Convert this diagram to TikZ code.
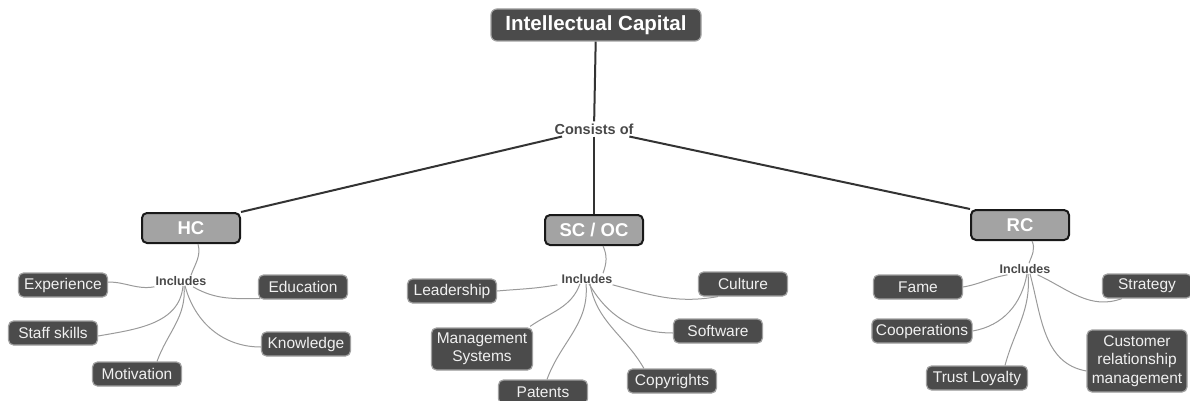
\documentclass[tikz,border=0pt]{standalone}
\usepackage{fontspec}
\setmainfont{Liberation Sans}
\definecolor{leaffill}{HTML}{4B4B4B}
\definecolor{leafedge}{HTML}{A0A0A0}
\definecolor{catfill}{HTML}{A3A3A3}
\definecolor{thinline}{HTML}{9A9A9A}
\definecolor{labtext}{HTML}{484848}
\definecolor{mainline}{HTML}{333333}
\tikzset{
  topbox/.style={rounded corners=6pt, fill=leaffill, draw=leafedge, line width=1.2pt,
    text=white, font=\fontsize{20.5}{24}\selectfont\bfseries, minimum width=210pt, minimum height=32pt, inner sep=2pt},
  catbox/.style={rounded corners=5pt, fill=catfill, draw=black!90, line width=2pt,
    text=white, font=\fontsize{18.5}{22}\selectfont\bfseries, minimum width=98pt, minimum height=30pt, inner sep=2pt},
  leafbox/.style={rounded corners=5pt, fill=leaffill, draw=leafedge, line width=1.2pt,
    text=white!94!black, font=\fontsize{15.5}{18.5}\selectfont, minimum width=89pt, minimum height=24pt,
    inner xsep=4pt, inner ysep=2pt, align=center},
  linklabel/.style={text=labtext, font=\fontsize{12.5}{14}\selectfont\bfseries, inner sep=1pt},
  conslabel/.style={text=labtext, font=\fontsize{14.5}{16}\selectfont\bfseries, inner sep=2pt},
  mainlink/.style={draw=mainline, line width=2pt},
  thinlink/.style={draw=thinline, line width=1pt},
}
\begin{document}
\begin{tikzpicture}[x=1pt,y=-1pt]
\useasboundingbox (0,0) rectangle (1190,401);
% top
\node[topbox] (ic) at (596,25) {Intellectual Capital};
\node[conslabel] (cons) at (594,129) {Consists of};
\node[catbox] (hc) at (191,228) {HC};
\node[catbox] (sc) at (594,230) {SC / OC};
\node[catbox] (rc) at (1020,225) {RC};
\draw[mainlink] (ic) -- (cons);
\draw[mainlink] (cons) -- (sc);
\draw[mainlink] (cons) -- (hc.north east);
\draw[mainlink] (cons) -- (rc.north west);

% HC group
\node[linklabel] (inc1) at (181,281) {Includes};
\node[leafbox] (exp) at (63,285) {Experience};
\node[leafbox] (edu) at (303,287) {Education};
\node[leafbox] (staff) at (53,333) {Staff skills};
\node[leafbox] (know) at (306,344) {Knowledge};
\node[leafbox] (motiv) at (137,374) {Motivation};
\draw[thinlink] ([xshift=7pt]hc.south) to[out=-75,in=70] ([xshift=10pt]inc1.north);
\draw[thinlink] (inc1.south west) to[out=190,in=0] ([yshift=3pt]exp.east);
\draw[thinlink] ([xshift=12pt]inc1.south) to[out=-30,in=180] ([xshift=2pt,yshift=1pt]edu.south west);
\draw[thinlink] ([xshift=2pt,yshift=1pt]inc1.south) to[out=-95,in=10] ([yshift=-3pt]staff.east);
\draw[thinlink] ([xshift=3pt,yshift=1pt]inc1.south) to[out=-85,in=70] ([xshift=20pt]motiv.north);
\draw[thinlink] ([xshift=4pt,yshift=1pt]inc1.south) to[out=-75,in=180] ([yshift=-3pt]know.west);

% SC group
\node[linklabel] (inc2) at (587,279) {Includes};
\node[leafbox] (lead) at (452,291) {Leadership};
\node[leafbox] (cult) at (743,284) {Culture};
\node[leafbox, minimum width=101pt, minimum height=42pt] (mgmt) at (482,349) {Management\\Systems};
\node[leafbox] (soft) at (718,331) {Software};
\node[leafbox] (pat) at (543,392) {Patents};
\node[leafbox] (copy) at (672,381) {Copyrights};
\draw[thinlink] ([xshift=9pt]sc.south) to[out=-65,in=70] ([xshift=16pt]inc2.north);
\draw[thinlink] ([xshift=-3pt]inc2.south west) to[out=190,in=5] (lead.east);
\draw[thinlink] ([xshift=-1pt]inc2.south east) to[out=-15,in=190] ([xshift=20pt]cult.south west);
\draw[thinlink] ([xshift=-7pt,yshift=1pt]inc2.south) to[out=-110,in=35] ([xshift=-3pt,yshift=1pt]mgmt.north east);
\draw[thinlink] ([xshift=2pt,yshift=1pt]inc2.south) to[out=-60,in=180] ([yshift=-2pt]soft.west);
\draw[thinlink] ([xshift=-1pt,yshift=1pt]inc2.south) to[out=-85,in=70] ([xshift=4pt]pat.north);
\draw[thinlink] ([xshift=3pt,yshift=1pt]inc2.south) to[out=-80,in=120] ([xshift=17pt]copy.north west);

% RC group
\node[linklabel] (inc3) at (1025,269) {Includes};
\node[leafbox] (fame) at (918,287) {Fame};
\node[leafbox] (strat) at (1147,286) {Strategy};
\node[leafbox] (coop) at (922,331) {Cooperations};
\node[leafbox, minimum width=101pt] (trust) at (977,378) {Trust Loyalty};
\node[leafbox, minimum width=100pt, minimum height=62pt] (crm) at (1137,361) {Customer\\relationship\\management};
\draw[thinlink] ([xshift=12pt]rc.south) to[out=-65,in=70] ([xshift=4pt]inc3.north);
\draw[thinlink] ([xshift=9pt]inc3.south west) to[out=190,in=10] (fame.east);
\draw[thinlink] ([xshift=-14pt]inc3.south east) to[out=-25,in=200] ([xshift=20pt]strat.south west);
\draw[thinlink] ([xshift=2pt,yshift=1pt]inc3.south) to[out=-100,in=10] (coop.east);
\draw[thinlink] ([xshift=3pt,yshift=1pt]inc3.south) to[out=-85,in=75] ([xshift=28pt]trust.north);
\draw[thinlink] ([xshift=5pt,yshift=1pt]inc3.south) to[out=-75,in=170] ([yshift=-10pt]crm.west);
\end{tikzpicture}
\end{document}
